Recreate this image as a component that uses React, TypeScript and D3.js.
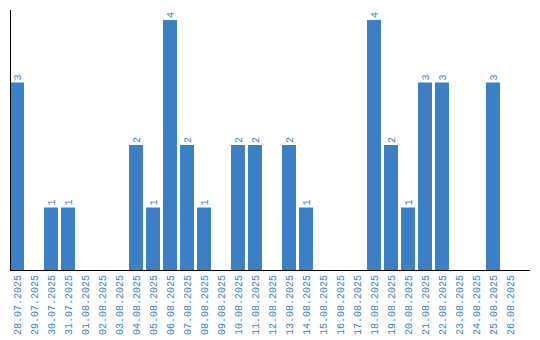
import React from "react";
import * as d3 from "d3";

const dates = [
  "28.07.2025","29.07.2025","30.07.2025","31.07.2025","01.08.2025","02.08.2025","03.08.2025",
  "04.08.2025","05.08.2025","06.08.2025","07.08.2025","08.08.2025","09.08.2025","10.08.2025",
  "11.08.2025","12.08.2025","13.08.2025","14.08.2025","15.08.2025","16.08.2025","17.08.2025",
  "18.08.2025","19.08.2025","20.08.2025","21.08.2025","22.08.2025","23.08.2025","24.08.2025",
  "25.08.2025","26.08.2025",
];
const counts = [3,0,1,1,0,0,0,2,1,4,2,1,0,2,2,0,2,1,0,0,0,4,2,1,3,3,0,0,3,0];

const color = "#3b7fc4";
const font = "'Liberation Mono', monospace";

export default function App() {
  const W = 540, H = 340;
  const x0 = 10, baseY = 270, topY = 20;
  const x = d3.scaleBand<string>().domain(dates).range([x0, x0 + 17 * dates.length - 3]).paddingInner(3 / 17).paddingOuter(0);
  const y = d3.scaleLinear().domain([0, 4]).range([baseY, topY]);
  return (
    <svg width={W} height={H} style={{ position: "absolute", left: 0, top: 0 }}>
      {dates.map((d, i) => {
        const v = counts[i];
        if (!v) return null;
        const bx = x(d)!;
        return (
          <g key={d}>
            <rect x={bx} y={y(v)} width={x.bandwidth()} height={baseY - y(v)} fill={color} />
            <text
              transform={`translate(${bx + x.bandwidth() / 2 + 3.5},${y(v) - 2}) rotate(-90)`}
              fontFamily={font} fontSize={10} fill={color} textAnchor="start"
            >{v}</text>
          </g>
        );
      })}
      {dates.map((d) => (
        <text key={"t" + d}
          transform={`translate(${x(d)! + x.bandwidth() / 2 + 3.5},${baseY + 5}) rotate(-90)`}
          fontFamily={font} fontSize={10} fill={color} textAnchor="end"
        >{d}</text>
      ))}
      <line x1={x0 + 0.5} x2={x0 + 0.5} y1={10} y2={baseY} stroke="#000" strokeWidth={1} />
      <line x1={x0} x2={530} y1={baseY + 0.5} y2={baseY + 0.5} stroke="#000" strokeWidth={1} />
    </svg>
  );
}
